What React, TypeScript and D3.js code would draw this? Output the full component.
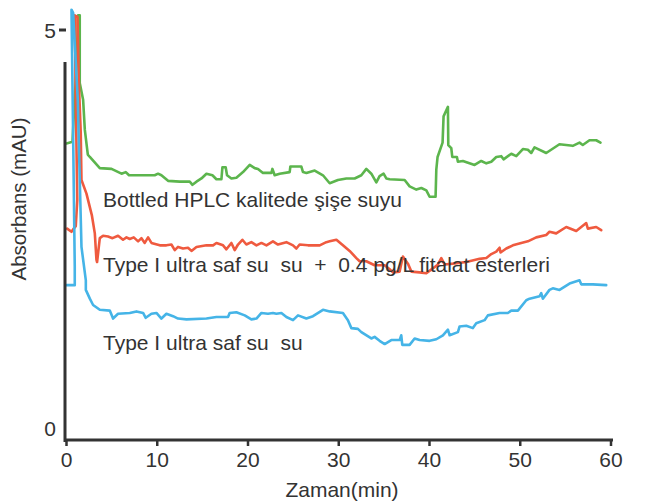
import React from "react";
import * as d3 from "d3";

const greenT = [0.00,0.66,0.80,1.10,1.28,1.46,1.46,1.83,2.02,2.35,2.57,3.67,4.96,6.06,6.53,6.89,9.72,10.09,10.46,11.19,12.48,13.58,13.88,14.32,14.87,15.42,16.08,16.52,17.07,17.18,17.54,17.69,18.17,18.72,19.45,20.19,20.74,21.10,21.65,22.58,22.69,22.94,23.49,24.59,24.67,25.88,26.06,26.43,27.35,28.26,29.00,29.91,30.84,31.75,32.49,33.04,33.59,34.14,34.50,34.94,35.24,35.61,37.26,37.81,38.55,39.10,39.65,40.01,40.67,40.75,40.89,41.44,41.55,42.03,42.07,42.40,42.51,43.02,43.13,43.68,44.97,45.70,46.26,46.81,47.36,47.91,48.16,49.01,49.56,50.29,50.84,51.21,51.57,52.86,54.32,55.79,56.53,56.89,57.63,58.37,58.84];
const greenV = [3.60,3.62,3.94,4.56,5.21,5.21,4.36,4.15,3.77,3.46,3.43,3.29,3.28,3.22,3.24,3.20,3.20,3.22,3.20,3.13,3.12,3.12,3.08,3.12,3.16,3.22,3.20,3.15,3.15,3.30,3.30,3.20,3.16,3.17,3.24,3.33,3.29,3.28,3.23,3.23,3.28,3.20,3.22,3.24,3.31,3.31,3.24,3.23,3.26,3.20,3.10,3.14,3.16,3.16,3.20,3.28,3.22,3.11,3.19,3.22,3.16,3.15,3.14,3.06,3.02,3.04,3.01,2.93,2.93,3.27,3.43,3.61,3.94,4.06,3.58,3.54,3.43,3.43,3.37,3.38,3.33,3.38,3.35,3.37,3.43,3.44,3.40,3.47,3.44,3.53,3.52,3.48,3.55,3.48,3.59,3.57,3.61,3.58,3.64,3.64,3.61];

const redT = [0.07,0.55,0.80,1.02,1.19,1.02,0.91,1.21,1.35,1.57,1.65,2.20,2.79,3.12,3.30,3.37,3.67,4.03,4.58,5.07,5.68,6.23,6.61,6.97,7.41,7.89,8.26,8.62,8.99,9.36,10.28,11.01,11.56,11.93,12.29,12.84,13.39,13.77,14.32,15.42,16.15,16.52,17.25,17.62,18.17,18.54,18.90,19.38,19.82,20.37,20.93,21.48,22.03,22.75,23.30,24.23,24.96,25.33,25.69,26.61,27.16,27.90,28.63,29.00,29.74,30.46,31.20,31.94,32.30,33.04,33.95,35.06,35.61,35.97,36.71,37.07,37.62,38.00,38.91,39.65,40.37,40.93,41.30,41.66,42.58,44.05,45.52,46.26,46.81,47.36,47.72,47.83,48.46,49.19,50.11,50.84,51.76,52.86,53.22,53.96,55.07,56.17,57.27,57.45,58.37,58.92];
const redV = [2.53,2.49,2.53,2.56,2.89,4.15,5.21,5.19,4.40,3.73,3.14,2.97,2.70,2.47,2.14,2.11,2.41,2.44,2.43,2.41,2.44,2.39,2.42,2.40,2.42,2.37,2.41,2.35,2.42,2.35,2.32,2.32,2.33,2.26,2.30,2.28,2.29,2.25,2.30,2.32,2.32,2.35,2.32,2.27,2.35,2.26,2.33,2.39,2.33,2.36,2.32,2.35,2.32,2.37,2.33,2.36,2.32,2.28,2.33,2.32,2.32,2.32,2.36,2.37,2.39,2.32,2.25,2.16,2.12,2.12,2.07,2.07,2.02,1.98,1.99,2.18,2.09,1.99,1.98,1.97,2.03,2.08,2.16,2.08,2.09,2.11,2.15,2.16,2.21,2.24,2.29,2.23,2.28,2.32,2.35,2.37,2.42,2.45,2.49,2.47,2.55,2.50,2.60,2.53,2.55,2.51];

const blueT = [0.00,0.91,0.91,0.75,0.55,0.73,1.24,1.65,2.13,2.13,2.57,2.93,3.67,4.77,5.13,5.68,6.97,7.71,8.44,8.73,9.36,9.91,10.46,11.01,11.74,12.29,13.22,15.42,16.52,17.80,17.98,18.72,19.64,20.37,20.93,21.48,22.20,22.75,23.13,23.68,24.23,24.96,25.51,26.43,27.16,28.26,29.00,30.46,31.01,31.39,32.11,32.49,33.59,33.95,34.50,35.06,35.79,36.71,36.89,37.00,37.81,38.36,38.91,40.01,40.75,41.48,42.03,42.22,43.13,43.31,44.05,44.78,45.15,46.07,46.43,47.72,48.63,49.01,49.74,50.66,51.03,52.13,52.31,52.49,53.22,53.59,54.33,55.43,56.53,56.72,58.00,59.47];
const blueV = [1.82,1.82,2.05,3.52,5.28,5.24,4.15,2.30,1.88,1.76,1.65,1.57,1.51,1.50,1.40,1.46,1.47,1.49,1.47,1.41,1.46,1.47,1.40,1.46,1.43,1.40,1.39,1.40,1.42,1.42,1.47,1.48,1.44,1.39,1.40,1.47,1.46,1.47,1.46,1.47,1.42,1.38,1.44,1.40,1.43,1.51,1.49,1.47,1.38,1.28,1.27,1.23,1.15,1.17,1.12,1.08,1.13,1.13,1.19,1.07,1.07,1.15,1.13,1.12,1.14,1.19,1.26,1.19,1.23,1.30,1.31,1.28,1.34,1.38,1.44,1.47,1.47,1.50,1.50,1.63,1.65,1.68,1.72,1.65,1.76,1.78,1.76,1.84,1.88,1.83,1.83,1.82];

const xTicks = [0, 10, 20, 30, 40, 50, 60];
const yTicks = [0, 5];
const seriesLabels = [
  "Bottled HPLC kalitede şişe suyu",
  "Type I ultra saf su\u00a0 su\u00a0 + \u00a00.4 pg/L fitalat esterleri",
  "Type I ultra saf su\u00a0 su",
];
const labelValues = [2.87, 2.05, 1.07];
const xTitle = "Zaman(min)";
const yTitle = "Absorbans (mAU)";

const colors = ["#5cb54d", "#ef5a3f", "#45b4e7"];
const FONT = "'Liberation Sans', Arial, sans-serif";
const TEXT = "#333333";

export default function App() {
  const x = d3.scaleLinear().domain([0, 60]).range([66.5, 611]);
  const y = d3.scaleLinear().domain([0, 5]).range([430, 32]);
  const line = d3
    .line<[number, number]>()
    .x((d) => x(d[0]))
    .y((d) => y(d[1]));
  const zip = (t: number[], v: number[]) => t.map((tt, i) => [tt, v[i]] as [number, number]);
  const series = [zip(greenT, greenV), zip(redT, redV), zip(blueT, blueV)];
  const axisY = 440;

  return (
    <svg
      width={645}
      height={503}
      style={{ position: "absolute", left: 0, top: 0, background: "#fff" }}
      fontFamily={FONT}
    >
      {series.map((s, i) => (
        <path
          key={i}
          d={line(s) || ""}
          fill="none"
          stroke={colors[i]}
          strokeWidth={2.6}
          strokeLinejoin="round"
          strokeLinecap="round"
        />
      ))}
      {seriesLabels.map((l, i) => (
        <text key={l} x={103} y={y(labelValues[i])} fontSize={21} fill={TEXT} dominantBaseline="middle">
          {l}
        </text>
      ))}
      {/* y axis */}
      <line x1={65} x2={65} y1={62} y2={axisY + 2} stroke={TEXT} strokeWidth={3} />
      {yTicks.map((t) => (
        <g key={t}>
          {t > 0 && <line x1={59} x2={66} y1={y(t) - 2} y2={y(t) - 2} stroke={TEXT} strokeWidth={3} />}
          <text x={50} y={y(t)} fontSize={21} fill={TEXT} textAnchor="middle" dominantBaseline="middle">
            {t}
          </text>
        </g>
      ))}
      {/* x axis */}
      <line x1={64} x2={613} y1={axisY} y2={axisY} stroke={TEXT} strokeWidth={3} />
      {xTicks.map((t) => (
        <g key={t}>
          <line x1={x(t)} x2={x(t)} y1={axisY} y2={axisY + 6} stroke={TEXT} strokeWidth={2.5} />
          <text x={x(t)} y={461} fontSize={21} fill={TEXT} textAnchor="middle" dominantBaseline="middle">
            {t}
          </text>
        </g>
      ))}
      <text x={342} y={491} fontSize={21} fill={TEXT} textAnchor="middle" dominantBaseline="middle">
        {xTitle}
      </text>
      <text
        transform={`translate(21,199) rotate(-90)`}
        fontSize={20.5}
        fill={TEXT}
        textAnchor="middle"
        dominantBaseline="middle"
      >
        {yTitle}
      </text>
    </svg>
  );
}
